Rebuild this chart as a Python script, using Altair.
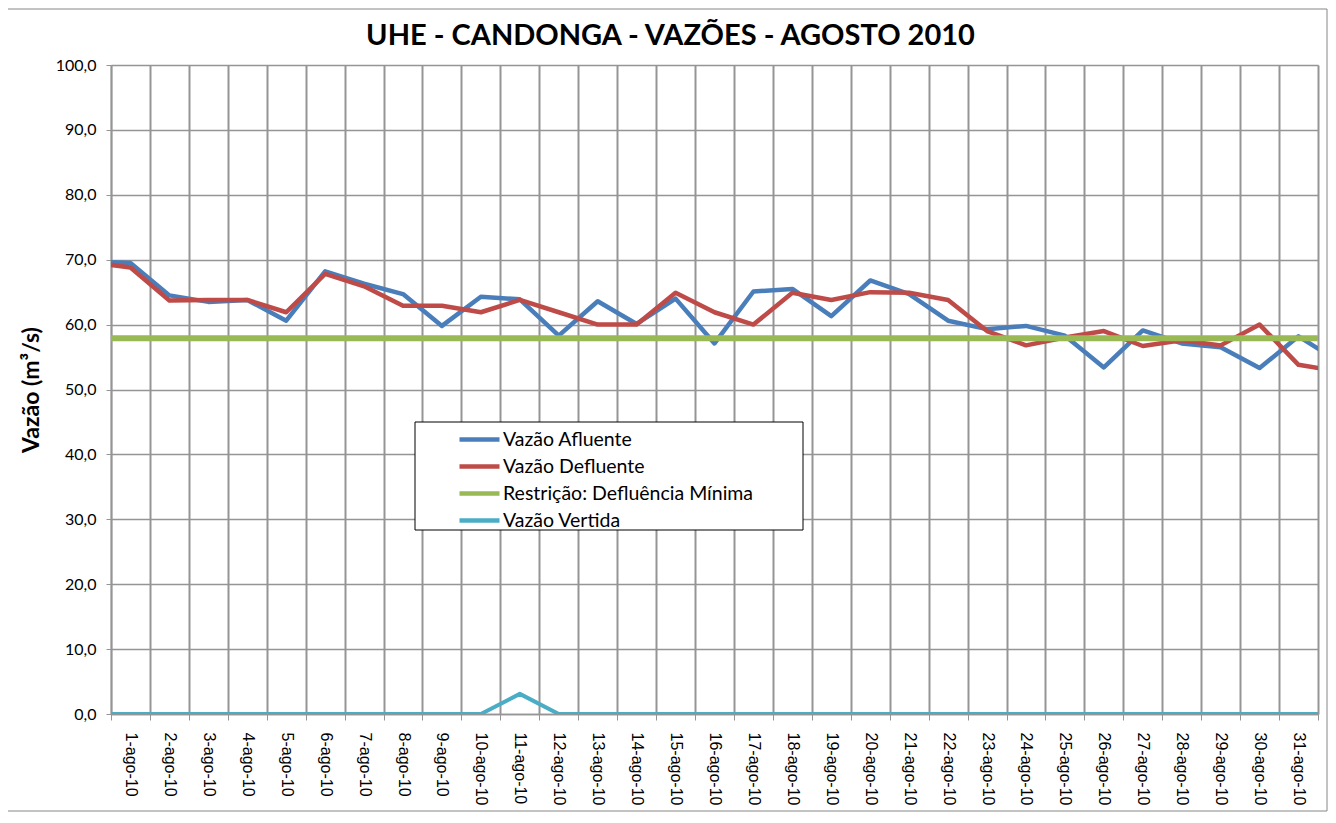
import json
import altair as alt
import pandas as pd

# day index (0 and 32 are the neighbouring days, only partly visible at the plot edges)
days = list(range(0, 33))
day_labels = [f"{d}-ago-10" for d in range(1, 32)]

afluente = [69.7, 69.5, 64.5, 63.5, 63.8, 60.6, 68.2, 66.3, 64.7, 59.8, 64.3,
            63.9, 58.3, 63.6, 60.1, 64.0, 57.1, 65.1, 65.5, 61.3, 66.8, 64.7,
            60.6, 59.3, 59.8, 58.3, 53.4, 59.1, 57.1, 56.5, 53.3, 58.2, 54.4]
defluente = [69.6, 68.8, 63.7, 63.8, 63.8, 61.9, 67.8, 65.9, 62.9, 62.9, 61.9,
             63.8, 61.9, 60.0, 60.0, 64.9, 61.9, 60.0, 64.9, 63.8, 65.0, 64.9,
             63.8, 59.0, 56.8, 58.0, 59.0, 56.7, 57.6, 56.8, 60.0, 53.8, 52.8]
restricao = [57.9, 57.9, 57.9, 57.9, 57.9, 57.9, 57.9, 57.9, 57.9, 57.9, 57.9,
             57.9, 57.9, 57.9, 57.9, 57.9, 57.9, 57.9, 57.9, 57.9, 57.9, 57.9,
             57.9, 57.9, 57.9, 57.9, 57.9, 57.9, 57.9, 57.9, 57.9, 57.9, 57.9]
vertida = [0.0, 0.0, 0.0, 0.0, 0.0, 0.0, 0.0, 0.0, 0.0, 0.0, 0.0,
           3.1, 0.0, 0.0, 0.0, 0.0, 0.0, 0.0, 0.0, 0.0, 0.0, 0.0,
           0.0, 0.0, 0.0, 0.0, 0.0, 0.0, 0.0, 0.0, 0.0, 0.0, 0.0]

series_names = ["Vazão Afluente", "Vazão Defluente",
                "Restrição: Defluência Mínima", "Vazão Vertida"]
series_colors = ["#4A7EBB", "#BE4B48", "#98B954", "#4BACC6"]
series_widths = [4.5, 4.5, 6, 4]
y_ticks = [0, 10, 20, 30, 40, 50, 60, 70, 80, 90, 100]

rows = []
for name, vals in zip(series_names, [afluente, defluente, restricao, vertida]):
    for d, v in zip(days, vals):
        rows.append({"day": d, "value": v, "serie": name})
df = pd.DataFrame(rows)

W, H = 1207, 649
GRID = "#959595"

xscale = alt.Scale(domain=[0.5, 31.5], nice=False, zero=False)
yenc = alt.Y("value:Q", scale=alt.Scale(domain=[0, 100], nice=False),
             axis=alt.Axis(values=y_ticks,
                           labelExpr="replace(format(datum.value, '.1f'), '.', ',')",
                           title="Vazão (m³/s)", titleFont="Lato", titleFontSize=23,
                           titleFontWeight="bold", titleColor="black", titlePadding=12,
                           labelFont="Lato", labelFontSize=16, labelColor="black",
                           labelPadding=10, tickSize=5, tickColor=GRID,
                           domainColor=GRID, domainWidth=1.5, gridColor=GRID,
                           gridWidth=1.5))

legend = alt.Legend(orient="none", legendX=356, legendY=362, title=None,
                    symbolType="M-2,0H2", symbolSize=400, symbolStrokeWidth=4.5,
                    labelFont="Lato", labelFontSize=19.5, labelColor="black",
                    labelLimit=400, rowPadding=5, labelOffset=11, padding=0)
color = alt.Color("serie:N", scale=alt.Scale(domain=series_names, range=series_colors),
                  legend=legend)

x_grid_axis = alt.Axis(values=[d + 0.5 for d in range(0, 32)], labels=False,
                       ticks=True, tickSize=6, tickColor=GRID, grid=True,
                       gridColor=GRID, gridWidth=2, domainColor=GRID,
                       domainWidth=1.5, title=None, orient="bottom")
x_label_axis = alt.Axis(values=list(range(1, 32)),
                        labelExpr=f"{json.dumps(day_labels)}[datum.value - 1]",
                        labelAngle=90, labelFont="Liberation Sans", labelFontSize=16,
                        labelColor="black", labelPadding=18, ticks=False, grid=False,
                        domain=False, title=None, orient="bottom", labelOverlap=False)

one = pd.DataFrame({"k": [0]})
border = alt.Chart(one).mark_rect(fill=None, stroke="#868686", strokeWidth=1).encode(
    x=alt.value(-104), x2=alt.value(1216), y=alt.value(-56), y2=alt.value(746))
legend_box = alt.Chart(one).mark_rect(fill="white", stroke="black", strokeWidth=1).encode(
    x=alt.value(304), x2=alt.value(692), y=alt.value(357), y2=alt.value(465))

layers = [border]
for i, (name, w) in enumerate(zip(series_names, series_widths)):
    if i == 0:
        xax = x_grid_axis
    elif i == 1:
        xax = x_label_axis
    else:
        xax = None
    layers.append(
        alt.Chart(df).transform_filter(alt.datum.serie == name)
        .mark_line(clip=True, strokeWidth=w, strokeJoin="round")
        .encode(x=alt.X("day:Q", scale=xscale, axis=xax), y=yenc, color=color)
    )
    if i == 0:
        layers.append(legend_box)

chart = alt.layer(*layers).resolve_axis(x="independent").properties(
    width=W, height=H,
    title=alt.TitleParams("UHE - CANDONGA - VAZÕES -  AGOSTO 2010", font="Lato",
                          fontSize=29, fontWeight="bold", color="black",
                          anchor="middle", dx=-44, baseline="alphabetic",
                          offset=-65),
    autosize=alt.AutoSizeParams(type="none"),
    padding={"left": 103, "top": 57, "right": 10, "bottom": 100},
).configure_view(stroke=None).configure(background="white")

chart.save("out.html", embed_options={"renderer": "svg", "actions": False})
